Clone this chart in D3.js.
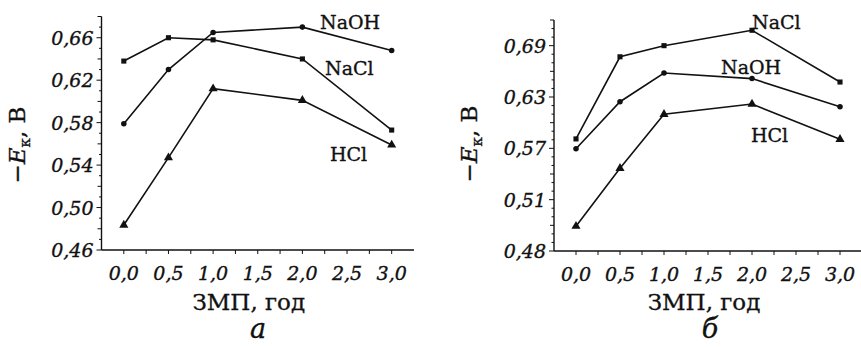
<!DOCTYPE html>
<html>
<head>
<meta charset="utf-8">
<script src="https://cdn.jsdelivr.net/npm/d3@7"></script>
<style>
  body { margin: 0; background: #fff; }
  svg text { font-family: "DejaVu Serif", serif; fill: #111; stroke: #111; stroke-width: 0.35px; }
  .tick-label { font-style: italic; font-size: 19px; }
  .series-label { font-size: 19px; }
  .axis-title { font-size: 23px; }
  .panel-letter { font-style: italic; font-size: 27px; }
</style>
</head>
<body>
<div id="chart"></div>
<script>
// x values (ЗМП, год) shared by both panels
const years = [0, 0.5, 1.0, 2.0, 3.0];
const xTicks = [0, 0.5, 1.0, 1.5, 2.0, 2.5, 3.0];

// panel a
const aNaOH = [0.579, 0.630, 0.665, 0.670, 0.648];
const aNaCl = [0.638, 0.660, 0.658, 0.640, 0.573];
const aHCl  = [0.4835, 0.547, 0.612, 0.601, 0.559];
const aYTicks = [0.46, 0.50, 0.54, 0.58, 0.62, 0.66];
const aYTickLabels = ["0,46", "0,50", "0,54", "0,58", "0,62", "0,66"];

// panel б (bottom label printed as 0,48 in the source)
const bNaCl = [0.581, 0.677, 0.690, 0.708, 0.6475];
const bNaOH = [0.5695, 0.6245, 0.658, 0.6515, 0.6187];
const bHCl  = [0.479, 0.5466, 0.6098, 0.6218, 0.5805];
const bYTicks = [0.45, 0.51, 0.57, 0.63, 0.69];
const bYTickLabels = ["0,48", "0,51", "0,57", "0,63", "0,69"];

const width = 861, height = 347;

const svg = d3.select("#chart").append("svg")
    .attr("width", width)
    .attr("height", height);

const fmtX = d => d3.format(".1f")(d).replace(".", ",");

const drawPanel = opts => {
    const g = svg.append("g");
    const x = d3.scaleLinear().domain([-0.25, 3.25]).range(opts.xRange);
    const y = d3.scaleLinear().domain(opts.yDomain).range(opts.yRange);
    const x0 = opts.xRange[0], yB = opts.yRange[0];

    // y axis line + ticks (minor 0.01, medium, major)
    g.append("line")
        .attr("x1", x0).attr("x2", x0)
        .attr("y1", opts.yRange[0]).attr("y2", opts.yRange[1])
        .attr("stroke", "#111").attr("stroke-width", 1.4);
    const minor = d3.range(Math.round(opts.yDomain[0] * 100), Math.round(opts.yDomain[1] * 100) + 1).map(v => v / 100);
    g.selectAll(".ytick").data(minor).join("line")
        .attr("x1", x0)
        .attr("x2", d => {
            const k = Math.round((d - opts.yDomain[0]) * 100);
            if (k % opts.majorStep === 0) return x0 - 5;
            if (k % opts.midStep === 0) return x0 - 4;
            return x0 - 2.5;
        })
        .attr("y1", d => y(d)).attr("y2", d => y(d))
        .attr("stroke", "#111").attr("stroke-width", 1);
    g.selectAll(".ylab").data(opts.yTicks).join("text")
        .attr("class", "tick-label")
        .attr("x", x0 - 8)
        .attr("y", d => y(d) + 7)
        .attr("text-anchor", "end")
        .text((d, i) => opts.yTickLabels[i]);

    // x axis line + ticks every 0.25
    g.append("line")
        .attr("x1", x0).attr("x2", opts.xRange[1])
        .attr("y1", yB).attr("y2", yB)
        .attr("stroke", "#111").attr("stroke-width", 1.4);
    g.selectAll(".xtick").data(d3.range(0, 13).map(i => i * 0.25)).join("line")
        .attr("x1", d => x(d)).attr("x2", d => x(d))
        .attr("y1", yB).attr("y2", yB + 4)
        .attr("stroke", "#111").attr("stroke-width", 1);
    g.selectAll(".xlab").data(xTicks).join("text")
        .attr("class", "tick-label")
        .attr("x", d => x(d))
        .attr("y", yB + 30)
        .attr("text-anchor", "middle")
        .text(fmtX);

    // series
    const line = d3.line().x((d, i) => x(years[i])).y(d => y(d));
    opts.series.forEach(s => {
        g.append("path")
            .attr("d", line(s.values))
            .attr("fill", "none")
            .attr("stroke", "#111")
            .attr("stroke-width", 1.6);
        const sym = s.shape === "square" ? d3.symbolSquare : s.shape === "circle" ? d3.symbolCircle : d3.symbolTriangle;
        const size = s.shape === "square" ? 26 : s.shape === "circle" ? 24 : 36;
        g.selectAll(null).data(s.values).join("path")
            .attr("transform", (d, i) => `translate(${x(years[i])},${y(d)})`)
            .attr("d", d3.symbol().type(sym).size(size))
            .attr("fill", "#111");
        g.append("text")
            .attr("class", "series-label")
            .attr("x", s.label[0])
            .attr("y", s.label[1])
            .text(s.name);
    });

    // titles
    const yt = g.append("text")
        .attr("class", "axis-title")
        .attr("transform", `translate(${opts.yTitleX},${opts.yTitleY}) rotate(-90)`)
        .attr("text-anchor", "middle");
    yt.append("tspan").text("\u2212");
    yt.append("tspan").attr("font-style", "italic").text("E");
    yt.append("tspan").attr("font-size", "15px").attr("dy", 5).text("к");
    yt.append("tspan").attr("dy", -5).text(", B");

    const xc = (opts.xRange[0] + opts.xRange[1]) / 2 + opts.titleShift;
    g.append("text")
        .attr("class", "axis-title")
        .attr("x", xc).attr("y", 310)
        .attr("text-anchor", "middle")
        .text("ЗМП, год");
    g.append("text")
        .attr("class", "panel-letter")
        .attr("x", opts.letterX).attr("y", 338)
        .attr("text-anchor", "middle")
        .text(opts.letter);
};

drawPanel({
    xRange: [101.5, 414],
    yDomain: [0.46, 0.68],
    yRange: [250, 16.5],
    majorStep: 4, midStep: 2,
    yTicks: aYTicks, yTickLabels: aYTickLabels,
    yTitleX: 25, yTitleY: 145,
    titleShift: -9, letterX: 258, letter: "а",
    series: [
        {name: "NaOH", values: aNaOH, shape: "circle", label: [320, 29]},
        {name: "NaCl", values: aNaCl, shape: "square", label: [325, 75]},
        {name: "HCl", values: aHCl, shape: "triangle", label: [330, 161]}
    ]
});

drawPanel({
    xRange: [554, 862],
    yDomain: [0.45, 0.72],
    yRange: [251, 20],
    majorStep: 6, midStep: 3,
    yTicks: bYTicks, yTickLabels: bYTickLabels,
    yTitleX: 477, yTitleY: 144,
    titleShift: -4, letterX: 710, letter: "б",
    series: [
        {name: "NaCl", values: bNaCl, shape: "square", label: [752, 29]},
        {name: "NaOH", values: bNaOH, shape: "circle", label: [721, 74]},
        {name: "HCl", values: bHCl, shape: "triangle", label: [751, 142]}
    ]
});
</script>
</body>
</html>
